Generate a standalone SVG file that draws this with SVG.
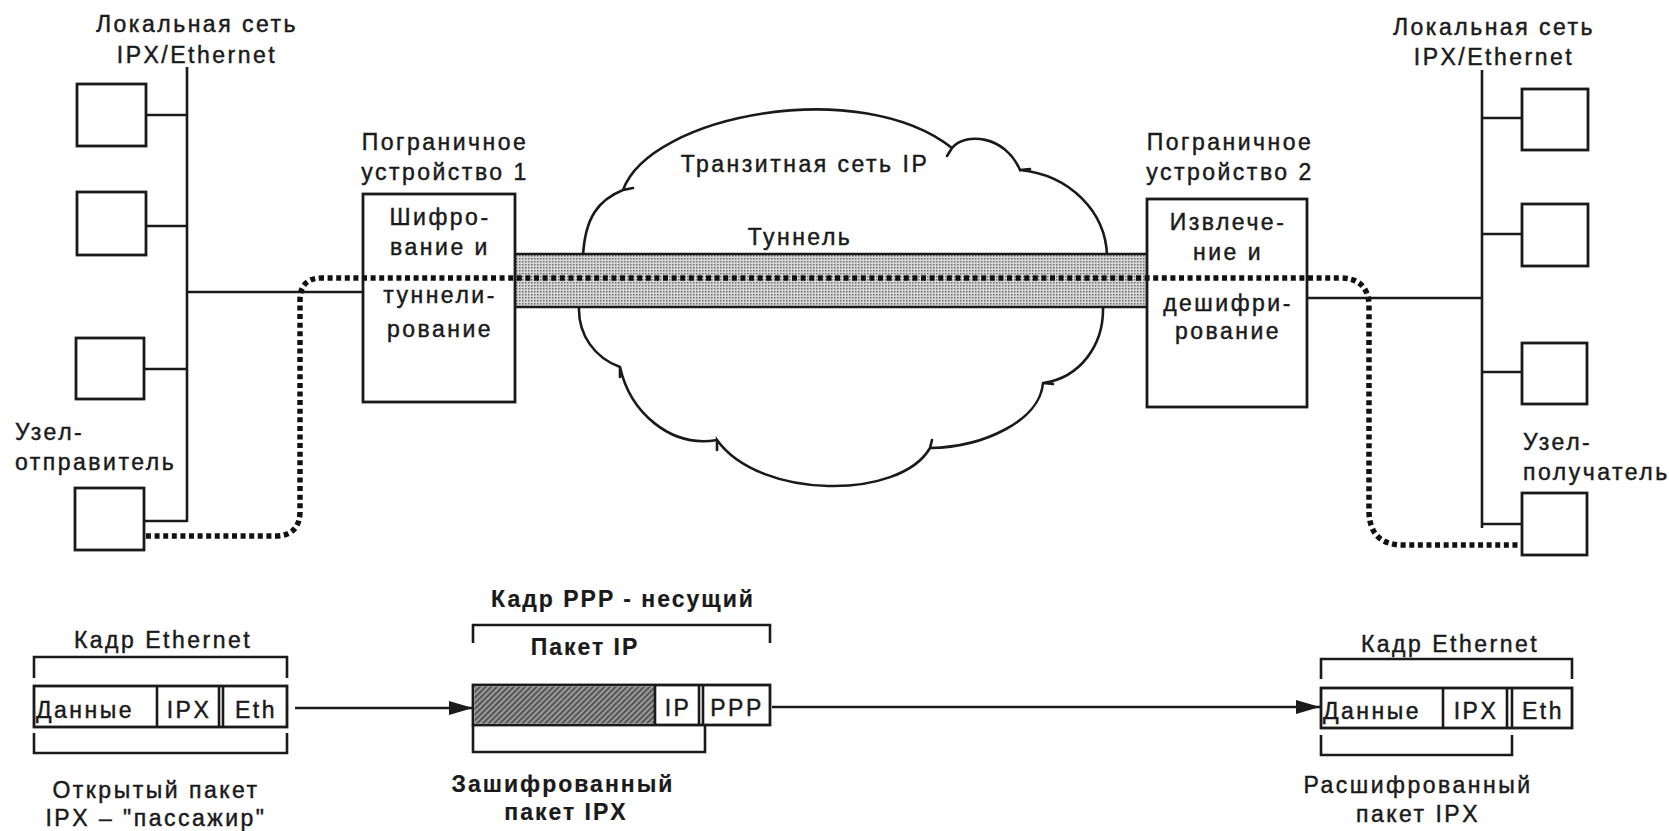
<svg xmlns="http://www.w3.org/2000/svg" width="1669" height="831" viewBox="0 0 1669 831">
<style>
text{font-family:"Liberation Sans",Arial,sans-serif;font-size:23px;letter-spacing:2.5px;fill:#1a1a1a;stroke:#1a1a1a;stroke-width:0.45px}
.m{text-anchor:middle}
.b{font-weight:bold;letter-spacing:2px;stroke-width:0.2px}
.ln{stroke:#1a1a1a;stroke-width:2.6;fill:none}
.bx{stroke:#1a1a1a;stroke-width:2.8;fill:#fff}
.dot{stroke:#111;stroke-width:5.5;fill:none;stroke-dasharray:5 3.6}
.cl{stroke:#1a1a1a;stroke-width:2.6;fill:none;stroke-linecap:round}
</style>
<defs>
<pattern id="stip" width="3" height="3" patternUnits="userSpaceOnUse"><rect width="3" height="3" fill="#d6d6d6"/><rect width="1.5" height="1.5" fill="#6e6e6e"/></pattern>
<pattern id="hatch" width="4" height="4" patternUnits="userSpaceOnUse" patternTransform="rotate(45)"><rect width="4" height="4" fill="#9a9a9a"/><rect width="2" height="4" fill="#555"/></pattern>
<marker id="ah" markerWidth="26" markerHeight="18" refX="24" refY="9" orient="auto" markerUnits="userSpaceOnUse"><path d="M0,2 L24,9 L0,16 Z" fill="#1a1a1a"/></marker>
</defs>
<rect width="1669" height="831" fill="#fff"/>

<g id="cloud">
<path class="cl" d="M583,256 C585,218 598,200 623,190 L633,188 M623,190 C650,115 860,75 952,148 L947,156 M952,148 C965,132 1005,135 1020,170 L1030,169 M1020,170 C1070,175 1106,212 1107,256"/>
<path class="cl" d="M1103,307 C1104,345 1080,378 1043,383 L1053,384 M1043,383 C1040,420 985,447 930,448 L932,440 M930,448 C900,500 760,500 717,440 L717,450 M717,440 C670,448 630,412 620,367 L620,377 M620,367 C595,358 578,335 579,307"/>
<text class="m" x="805" y="172">Транзитная сеть IP</text>
</g>

<g id="tunnel">
<rect x="515" y="254" width="632" height="53" fill="url(#stip)"/>
<line class="ln" x1="515" y1="254" x2="1147" y2="254" stroke-width="3"/>
<line class="ln" x1="515" y1="307" x2="1147" y2="307" stroke-width="3"/>
<text class="m" x="800" y="245">Туннель</text>
</g>

<g id="lan-left">
<text class="m" x="197" y="32">Локальная сеть</text>
<text class="m" x="197" y="63">IPX/Ethernet</text>
<line class="ln" x1="187" y1="67" x2="187" y2="522"/>
<rect class="bx" x="77" y="84" width="69" height="62"/>
<line class="ln" x1="146" y1="115" x2="187" y2="115"/>
<rect class="bx" x="77" y="192" width="69" height="63"/>
<line class="ln" x1="146" y1="226" x2="187" y2="226"/>
<rect class="bx" x="76" y="338" width="68" height="61"/>
<line class="ln" x1="144" y1="369" x2="187" y2="369"/>
<line class="ln" x1="187" y1="292" x2="363" y2="292"/>
</g>

<g id="sender">
<rect class="bx" x="75" y="488" width="69" height="62"/>
<line class="ln" x1="144" y1="521" x2="187" y2="521"/>
<text x="15" y="440">Узел-</text>
<text x="15" y="470">отправитель</text>
</g>

<g id="device1">
<text class="m" x="445" y="150">Пограничное</text>
<text class="m" x="445" y="180">устройство 1</text>
<rect class="bx" x="363" y="194" width="152" height="208"/>
<text class="m" x="440" y="225">Шифро-</text>
<text class="m" x="440" y="255">вание и</text>
<text class="m" x="440" y="303">туннели-</text>
<text class="m" x="440" y="337">рование</text>
</g>

<g id="device2">
<text class="m" x="1230" y="150">Пограничное</text>
<text class="m" x="1230" y="180">устройство 2</text>
<rect class="bx" x="1147" y="199" width="160" height="208"/>
<text class="m" x="1228" y="230">Извлече-</text>
<text class="m" x="1228" y="260">ние и</text>
<text class="m" x="1228" y="311">дешифри-</text>
<text class="m" x="1228" y="339">рование</text>
</g>

<g id="lan-right">
<text class="m" x="1494" y="35">Локальная сеть</text>
<text class="m" x="1494" y="65">IPX/Ethernet</text>
<line class="ln" x1="1482" y1="70" x2="1482" y2="528"/>
<rect class="bx" x="1522" y="89" width="66" height="61"/>
<line class="ln" x1="1482" y1="118" x2="1522" y2="118"/>
<rect class="bx" x="1522" y="204" width="66" height="62"/>
<line class="ln" x1="1482" y1="234" x2="1522" y2="234"/>
<rect class="bx" x="1522" y="343" width="65" height="61"/>
<line class="ln" x1="1482" y1="372" x2="1522" y2="372"/>
<line class="ln" x1="1307" y1="298" x2="1482" y2="298"/>
</g>

<g id="receiver">
<rect class="bx" x="1522" y="493" width="65" height="62"/>
<line class="ln" x1="1482" y1="524" x2="1522" y2="524"/>
<text x="1523" y="450">Узел-</text>
<text x="1523" y="480">получатель</text>
</g>

<g id="connectors">
<path class="dot" d="M146,536 H275 Q300,536 300,511 V300 Q300,278 322,278 H1340 Q1368,278 1369,305 V512 Q1370,545 1403,545 H1518"/>
<line class="ln" x1="295" y1="708" x2="473" y2="708" marker-end="url(#ah)"/>
<line class="ln" x1="772" y1="707" x2="1320" y2="707" marker-end="url(#ah)"/>
</g>

<g id="packet-open">
<text class="m" x="163" y="648">Кадр Ethernet</text>
<path class="ln" d="M34,678 V657 H287 V678"/>
<rect class="bx" x="34" y="686" width="253" height="41"/>
<line class="ln" x1="157" y1="686" x2="157" y2="727"/>
<line class="ln" x1="219" y1="686" x2="219" y2="727"/>
<line class="ln" x1="223" y1="686" x2="223" y2="727"/>
<text x="36" y="718">Данные</text>
<text class="m" x="189" y="718">IPX</text>
<text class="m" x="256" y="718">Eth</text>
<path class="ln" d="M34,733 V753 H287 V733"/>
<text class="m" x="156" y="798">Открытый пакет</text>
<text class="m" x="156" y="826">IPX – "пассажир"</text>
</g>

<g id="packet-encrypted">
<text class="m b" x="623" y="607">Кадр PPP - несущий</text>
<path class="ln" d="M473,643 V625 H770 V643"/>
<text class="m b" x="585" y="655">Пакет IP</text>
<rect class="bx" x="473" y="685" width="297" height="40"/>
<rect x="474.5" y="686.5" width="180" height="37" fill="url(#hatch)"/>
<line class="ln" x1="655" y1="685" x2="655" y2="725"/>
<line class="ln" x1="699" y1="685" x2="699" y2="725"/>
<line class="ln" x1="703" y1="685" x2="703" y2="725"/>
<text class="m" x="678" y="716">IP</text>
<text class="m" x="737" y="716">PPP</text>
<path class="ln" d="M473,725 V752 H705 V725"/>
<text class="m b" x="563" y="792">Зашифрованный</text>
<text class="m b" x="566" y="820">пакет IPX</text>
</g>

<g id="packet-decrypted">
<text class="m" x="1450" y="652">Кадр Ethernet</text>
<path class="ln" d="M1321,679 V659 H1572 V679"/>
<rect class="bx" x="1321" y="688" width="251" height="40"/>
<line class="ln" x1="1443" y1="688" x2="1443" y2="728"/>
<line class="ln" x1="1507" y1="688" x2="1507" y2="728"/>
<line class="ln" x1="1512" y1="688" x2="1512" y2="728"/>
<text x="1323" y="719">Данные</text>
<text class="m" x="1476" y="719">IPX</text>
<text class="m" x="1543" y="719">Eth</text>
<path class="ln" d="M1321,735 V755 H1512 V735"/>
<text class="m" x="1418" y="793">Расшифрованный</text>
<text class="m" x="1418" y="822">пакет IPX</text>
</g>
</svg>
